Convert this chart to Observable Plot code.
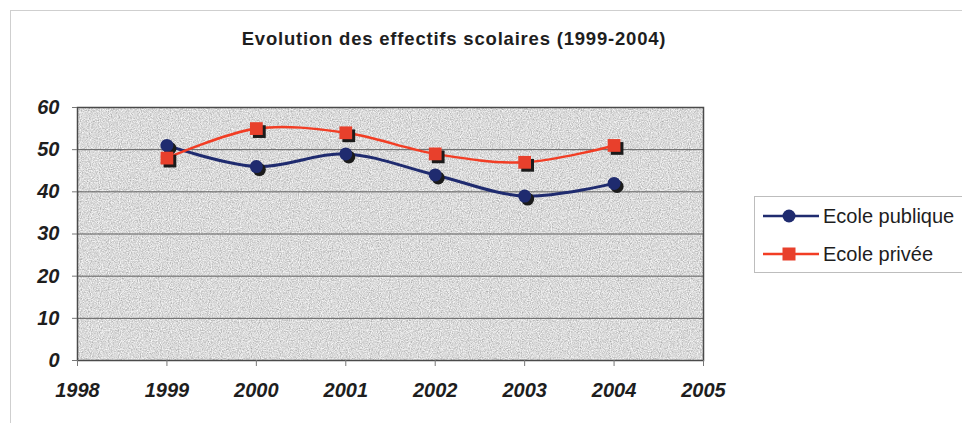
<!DOCTYPE html>
<html><head><meta charset="utf-8">
<script src="https://cdn.jsdelivr.net/npm/d3@7"></script>
<script src="https://cdn.jsdelivr.net/npm/@observablehq/plot@0.6"></script>
<style>
body{margin:0;background:#fff;}
#wrap{position:relative;width:962px;height:423px;overflow:hidden;font-family:"Liberation Sans",Arial,sans-serif;background:#fff;}
#chart{position:absolute;left:0;top:0;}
#border{position:absolute;left:10px;top:10px;width:1000px;height:500px;border-left:1px solid #cfcfcf;border-top:1px solid #cfcfcf;}
#title{position:absolute;left:0;width:908px;top:29px;line-height:20px;text-align:center;font-weight:bold;font-size:18.5px;letter-spacing:0.8px;color:#1e1e1e;}
#legend{position:absolute;left:754px;top:196px;width:230px;height:77px;border:1px solid #bdbdbd;box-sizing:border-box;background:#fff;}
.row{position:absolute;left:0;height:30px;width:230px;}
.row svg{position:absolute;left:7px;top:0;}
.row span{position:absolute;left:68px;top:3px;font-size:20px;line-height:24px;color:#1e1e1e;}
</style></head>
<body>
<svg width="0" height="0" style="position:absolute">
  <defs>
    <filter id="grain" x="0" y="0" width="100%" height="100%" filterUnits="objectBoundingBox">
      <feTurbulence type="fractalNoise" baseFrequency="0.9" numOctaves="2" seed="3" result="n"/>
      <feColorMatrix in="n" type="matrix" values="0.8 0 0 0 0.3  0.8 0 0 0 0.3  0.8 0 0 0 0.3  0 0 0 0 1" result="g"/>
      <feComposite in="g" in2="SourceGraphic" operator="in"/>
    </filter>
  </defs>
</svg>
<div id="wrap">
  <div id="border"></div>
  <div id="chart"></div>
  <div id="title"></div>
  <div id="legend"></div>
</div>
<script>
const titleText = "Evolution des effectifs scolaires (1999-2004)";
const years = [1999, 2000, 2001, 2002, 2003, 2004];
const publique = [51, 46, 49, 44, 39, 42];
const privee = [48, 55, 54, 49, 47, 51];
const seriesNames = ["Ecole publique", "Ecole privée"];
const seriesColors = ["#1f2b6f", "#f23d24"];
const xTicks = [1998, 1999, 2000, 2001, 2002, 2003, 2004, 2005];
const yTicks = [0, 10, 20, 30, 40, 50, 60];

const pubData = years.map((y, i) => ({year: y, value: publique[i], serie: seriesNames[0]}));
const privData = years.map((y, i) => ({year: y, value: privee[i], serie: seriesNames[1]}));

const axisFont = {fontSize: 20, fontWeight: "bold", fontStyle: "italic", fill: "#1e1e1e"};

const plot = Plot.plot({
  width: 962, height: 423,
  marginLeft: 77, marginRight: 259, marginTop: 107, marginBottom: 63,
  style: {fontFamily: "'Liberation Sans', Arial, sans-serif", background: "transparent", overflow: "visible"},
  x: {domain: [1998, 2005]},
  y: {domain: [0, 60]},
  marks: [
    Plot.frame({fill: "#c8c8c8", ariaLabel: "bg"}),
    Plot.gridY(yTicks, {stroke: "#5e5e5e", strokeOpacity: 1, strokeWidth: 1}),
    Plot.frame({stroke: "#4a4a4a", strokeWidth: 1.5}),
    Plot.axisX({ticks: xTicks, tickFormat: "d", tickSize: 6, tickPadding: 16, label: null, stroke: "#777", ...axisFont}),
    Plot.axisY({ticks: yTicks, tickSize: 5, tickPadding: 13, label: null, stroke: "#777", ...axisFont}),
    Plot.line(pubData, {x: "year", y: "value", stroke: seriesColors[0], strokeWidth: 3, curve: "catmull-rom"}),
    Plot.line(privData, {x: "year", y: "value", stroke: seriesColors[1], strokeWidth: 2.5, curve: "catmull-rom"}),
    Plot.dot(pubData, {x: "year", y: "value", dx: 3, dy: 3, r: 6.5, fill: "#1b1b1b", symbol: "circle"}),
    Plot.dot(privData, {x: "year", y: "value", dx: 3, dy: 3, r: 7.2, fill: "#1b1b1b", symbol: "square"}),
    Plot.dot(pubData, {x: "year", y: "value", r: 6.5, fill: seriesColors[0], symbol: "circle"}),
    Plot.dot(privData, {x: "year", y: "value", r: 7.2, fill: "#e8402c", symbol: "square"})
  ]
});
document.getElementById("chart").appendChild(plot);
d3.select(plot).selectAll('[aria-label="bg"]').each(function() {
  const el = d3.select(this);
  (this.tagName.toLowerCase() === "rect" ? el : el.selectAll("rect")).attr("filter", "url(#grain)");
});

document.getElementById("title").textContent = titleText;

const legend = document.getElementById("legend");
const rowTops = [4, 42];
seriesNames.forEach((name, i) => {
  const row = document.createElement("div");
  row.className = "row";
  row.style.top = rowTops[i] + "px";
  const marker = i === 0
    ? `<circle cx="27" cy="15" r="6.5" fill="${seriesColors[0]}"/>`
    : `<rect x="20.5" y="8.5" width="13" height="13" fill="#e8402c"/>`;
  row.innerHTML = `<svg width="58" height="30"><line x1="1" x2="57" y1="15" y2="15" stroke="${seriesColors[i]}" stroke-width="2.5"/>${marker}</svg><span>${name}</span>`;
  legend.appendChild(row);
});
</script>
</body></html>
